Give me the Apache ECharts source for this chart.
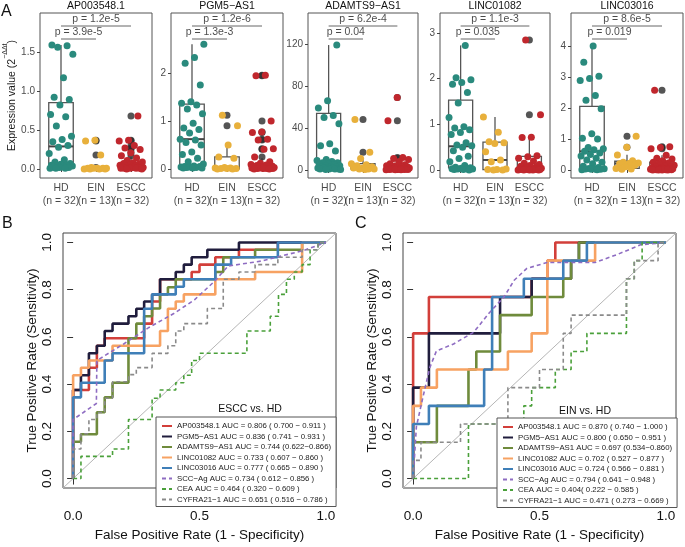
<!DOCTYPE html>
<html><head><meta charset="utf-8">
<script src="https://cdn.jsdelivr.net/npm/echarts@6/dist/echarts.min.js"></script>
<style>html,body{margin:0;padding:0;background:#fff}#c{width:685px;height:547px}</style>
</head><body><div id="c"></div>
<script>
// ---------- Panel A data ----------
const genes = ['AP003548.1','PGM5−AS1','ADAMTS9−AS1','LINC01082','LINC03016'];
const groups = ['HD','EIN','ESCC'];
const groupN = [32,13,32];
const yTicks = [[0,0.5,1,1.5],[0,1,2],[0,40,80,120],[0,1,2,3],[0,1,2,3,4]];
const pShort = ['p = 3.9e-5','p = 1.3e-3','p = 0.04','p = 0.035','p = 0.019'];
const pLong  = ['p = 1.2e-5','p = 1.2e-6','p = 6.2e-4','p = 1.1e-3','p = 8.6e-5'];

const ap_HD   = [1.59,1.58,1.56,1.47,1.17,0.92,0.89,0.82,0.70,0.67,0.55,0.42,0.38,0.35,0.30,0.28,0.20,0.12,0.09,0.07,0.06,0.05,0.05,0.04,0.04,0.03,0.03,0.02,0.02,0.01,0.01,0.01];
const ap_EIN  = [0.37,0.36,0.18,0.02,0.01,0.01,0.01,0.01,0.01,0.0,0.0,0.0,0.0];
const ap_ESCC = [0.68,0.37,0.36,0.30,0.27,0.25,0.21,0.17,0.14,0.11,0.09,0.08,0.07,0.06,0.05,0.05,0.04,0.04,0.03,0.03,0.03,0.02,0.02,0.02,0.02,0.01,0.01,0.01,0.01,0.01,0.0,0.0];
const ap_box  = [[0,0.05,0.29,0.85,1.59],[0,0.0,0.01,0.01,0.01],[0,0.01,0.03,0.07,0.15]];

const pgm_HD   = [2.60,2.32,2.20,1.75,1.40,1.37,1.33,1.25,1.15,0.95,0.85,0.82,0.75,0.62,0.60,0.55,0.50,0.35,0.30,0.22,0.15,0.10,0.06,0.05,0.05,0.04,0.04,0.03,0.03,0.02,0.02,0.02];
const pgm_EIN  = [1.12,0.90,0.50,0.25,0.22,0.03,0.02,0.02,0.01,0.01,0.01,0.0,0.0];
const pgm_ESCC = [1.95,1.94,1.00,0.77,0.76,0.62,0.60,0.42,0.41,0.25,0.15,0.12,0.09,0.08,0.07,0.06,0.05,0.05,0.04,0.04,0.03,0.03,0.03,0.02,0.02,0.02,0.01,0.01,0.01,0.01,0.0,0.0];
const pgm_box  = [[0.02,0.05,0.62,1.35,2.60],[0,0.0,0.01,0.25,0.50],[0,0.01,0.04,0.10,0.22]];

const adam_HD   = [119,66,59,52,50,44,25,23,18,10,9,8,7,7,6,5,5,4,4,3,3,3,2,2,2,2,1,1,1,1,0.5,0.5];
const adam_EIN  = [48,17,11,6,5,4,3,2,2,1,1,1,0.5];
const adam_ESCC = [69,47,12,11,10,8,6,5,4,4,3,3,3,2,2,2,2,2,1,1,1,1,1,1,1,0.5,0.5,0.5,0.5,0.3,0.3,0.2];
const adam_box  = [[0.5,2,7,54,119],[0.5,1,2,6,11],[0.2,1,2,4.5,10]];

const l82_HD   = [2.73,2.02,1.98,1.92,1.88,1.70,1.47,1.15,0.95,0.92,0.88,0.82,0.78,0.60,0.55,0.53,0.50,0.42,0.30,0.25,0.18,0.10,0.06,0.05,0.04,0.03,0.03,0.02,0.02,0.01,0.01,0.0];
const l82_EIN  = [1.16,0.83,0.62,0.60,0.58,0.40,0.22,0.18,0.02,0.01,0.01,0.0,0.0];
const l82_ESCC = [2.85,1.21,0.72,0.71,0.31,0.29,0.26,0.20,0.15,0.12,0.10,0.08,0.06,0.05,0.04,0.04,0.03,0.03,0.02,0.02,0.02,0.02,0.01,0.01,0.01,0.01,0.01,0.0,0.0,0.0,0.0,0.0];
const l82_box  = [[0,0.05,0.52,1.53,2.73],[0,0.01,0.22,0.61,1.16],[0,0.01,0.03,0.30,0.72]];

const l16_HD   = [4.0,3.47,3.02,2.95,2.88,2.40,2.25,1.97,1.17,1.02,1.00,0.72,0.68,0.65,0.60,0.55,0.50,0.45,0.38,0.32,0.25,0.20,0.12,0.08,0.05,0.04,0.03,0.03,0.02,0.02,0.01,0.01];
const l16_EIN  = [1.09,0.73,0.48,0.30,0.25,0.22,0.21,0.20,0.15,0.10,0.05,0.03,0.02];
const l16_ESCC = [2.57,0.75,0.72,0.68,0.47,0.38,0.35,0.30,0.25,0.22,0.20,0.15,0.12,0.10,0.10,0.08,0.06,0.05,0.05,0.04,0.03,0.03,0.02,0.02,0.02,0.01,0.01,0.01,0.0,0.0,0.0,0.0];
const l16_box  = [[0.01,0.05,0.60,2.05,4.0],[0.02,0.05,0.21,0.28,0.49],[0,0.02,0.08,0.25,0.47]];

// ---------- Panels B / C data (ROC vertices: [FPR, TPR]) ----------
const markerColors = ['#d23f3a','#201d3d','#6f8b3c','#f7a262','#3f7fb8','#8e6cc2','#4aa03a','#8a8a8a'];
const markerDashed = [false,false,false,false,false,true,true,true];
const legendB = ['AP003548.1 AUC = 0.806 ( 0.700 − 0.911 )','PGM5−AS1 AUC = 0.836 ( 0.741 − 0.931 )','ADAMTS9−AS1 AUC = 0.744 (0.622−0.866)','LINC01082 AUC = 0.733 ( 0.607 − 0.860 )','LINC03016 AUC = 0.777 ( 0.665 − 0.890 )','SCC−Ag AUC = 0.734 ( 0.612 − 0.856 )','CEA AUC = 0.464 ( 0.320 − 0.609 )','CYFRA21−1 AUC = 0.651 ( 0.516 − 0.786 )'];
const legendC = ['AP003548.1 AUC = 0.870 ( 0.740 − 1.000 )','PGM5−AS1 AUC = 0.800 ( 0.650 − 0.951 )','ADAMTS9−AS1 AUC = 0.697 (0.534−0.860)','LINC01082 AUC = 0.702 ( 0.527 − 0.877 )','LINC03016 AUC = 0.724 ( 0.566 − 0.881 )','SCC−Ag AUC = 0.794 ( 0.641 − 0.948 )','CEA AUC = 0.404( 0.222 − 0.585 )','CYFRA21−1 AUC = 0.471 ( 0.273 − 0.669 )'];

const rocB_AP = [[0,0],[0,0.375],[0.0625,0.375],[0.0625,0.469],[0.094,0.469],[0.094,0.5625],[0.125,0.5625],[0.125,0.594],[0.281,0.594],[0.281,0.656],[0.3125,0.656],[0.3125,0.75],[0.344,0.75],[0.344,0.844],[0.469,0.844],[0.469,0.875],[0.5,0.875],[0.5,0.906],[0.5625,0.906],[0.5625,0.9375],[0.656,0.9375],[0.656,0.969],[0.81,0.969],[0.81,1],[1,1]];
const rocB_PGM = [[0,0],[0,0.375],[0.031,0.375],[0.031,0.4375],[0.0625,0.4375],[0.0625,0.531],[0.094,0.531],[0.094,0.5625],[0.125,0.5625],[0.125,0.625],[0.156,0.625],[0.156,0.656],[0.219,0.656],[0.219,0.6875],[0.25,0.6875],[0.25,0.719],[0.281,0.719],[0.281,0.75],[0.3125,0.75],[0.3125,0.78],[0.344,0.78],[0.344,0.844],[0.406,0.844],[0.406,0.875],[0.438,0.875],[0.438,0.906],[0.469,0.906],[0.469,0.9375],[0.531,0.9375],[0.531,0.969],[0.656,0.969],[0.656,1],[1,1]];
const rocB_ADAM = [[0,0],[0,0.156],[0.031,0.156],[0.031,0.1875],[0.094,0.1875],[0.094,0.281],[0.125,0.281],[0.125,0.344],[0.156,0.344],[0.156,0.406],[0.219,0.406],[0.219,0.594],[0.25,0.594],[0.25,0.656],[0.281,0.656],[0.281,0.6875],[0.3125,0.6875],[0.3125,0.72],[0.344,0.72],[0.344,0.78],[0.375,0.78],[0.375,0.81],[0.406,0.81],[0.406,0.844],[0.5625,0.844],[0.5625,0.875],[0.594,0.875],[0.594,0.9375],[0.72,0.9375],[0.72,0.969],[0.906,0.969],[0.906,1],[1,1]];
const rocB_L82 = [[0,0],[0,0.4375],[0.031,0.4375],[0.031,0.469],[0.0625,0.469],[0.0625,0.5],[0.156,0.5],[0.156,0.5625],[0.344,0.5625],[0.344,0.625],[0.375,0.625],[0.375,0.719],[0.406,0.719],[0.406,0.75],[0.438,0.75],[0.438,0.78],[0.5625,0.78],[0.5625,0.844],[0.72,0.844],[0.72,0.875],[0.906,0.875],[0.906,1],[1,1]];
const rocB_L16 = [[0,0],[0,0.344],[0.031,0.344],[0.031,0.406],[0.125,0.406],[0.125,0.5],[0.156,0.5],[0.156,0.531],[0.281,0.531],[0.281,0.719],[0.3125,0.719],[0.3125,0.78],[0.406,0.78],[0.406,0.8125],[0.438,0.8125],[0.438,0.844],[0.5625,0.844],[0.5625,0.906],[0.625,0.906],[0.625,0.9375],[0.81,0.9375],[0.81,1],[1,1]];
const rocB_SCC = [[0,0],[0,0.25],[0.092,0.318],[0.094,0.50],[0.2,0.57],[0.3,0.64],[0.4,0.70],[0.48,0.757],[0.56,0.836],[0.613,0.90],[0.744,0.921],[0.915,0.967],[1,1]];
const rocB_CEA = [[0,0],[0.031,0],[0.031,0.094],[0.156,0.094],[0.156,0.125],[0.219,0.125],[0.219,0.25],[0.3125,0.25],[0.3125,0.34],[0.344,0.34],[0.344,0.375],[0.406,0.375],[0.406,0.406],[0.438,0.406],[0.438,0.4375],[0.469,0.4375],[0.469,0.5],[0.5,0.5],[0.5,0.531],[0.6875,0.531],[0.6875,0.625],[0.78,0.625],[0.78,0.6875],[0.8125,0.6875],[0.8125,0.78],[0.844,0.78],[0.844,0.844],[0.875,0.844],[0.875,0.875],[0.906,0.875],[0.906,0.906],[0.9375,0.906],[0.9375,0.969],[0.969,0.969],[0.969,1],[1,1]];
const rocB_CYF = [[0,0],[0,0.125],[0.031,0.125],[0.031,0.19],[0.0625,0.19],[0.0625,0.25],[0.094,0.25],[0.094,0.28],[0.125,0.28],[0.125,0.34],[0.156,0.34],[0.156,0.41],[0.22,0.41],[0.22,0.44],[0.25,0.44],[0.25,0.47],[0.3125,0.47],[0.3125,0.53],[0.375,0.53],[0.375,0.5625],[0.406,0.5625],[0.406,0.625],[0.438,0.625],[0.438,0.656],[0.531,0.656],[0.531,0.72],[0.594,0.72],[0.594,0.844],[0.656,0.844],[0.656,0.875],[0.72,0.875],[0.72,0.906],[0.81,0.906],[0.81,0.9375],[0.906,0.9375],[0.906,0.969],[0.969,0.969],[0.969,1],[1,1]];

const rocC_AP = [[0,0],[0,0.615],[0.0625,0.615],[0.0625,0.769],[0.469,0.769],[0.469,0.846],[0.531,0.846],[0.531,0.923],[0.5625,0.923],[0.5625,1],[1,1]];
const rocC_PGM = [[0,0],[0,0.385],[0.0625,0.385],[0.0625,0.615],[0.344,0.615],[0.344,0.769],[0.469,0.769],[0.469,0.846],[0.625,0.846],[0.625,0.923],[0.656,0.923],[0.656,1],[1,1]];
const rocC_ADAM = [[0,0],[0,0.154],[0.094,0.154],[0.094,0.308],[0.219,0.308],[0.219,0.462],[0.25,0.462],[0.25,0.538],[0.344,0.538],[0.344,0.692],[0.469,0.692],[0.469,0.769],[0.594,0.769],[0.594,0.846],[0.625,0.846],[0.625,0.923],[0.656,0.923],[0.656,1],[1,1]];
const rocC_L82 = [[0,0],[0,0.308],[0.031,0.308],[0.031,0.385],[0.094,0.385],[0.094,0.462],[0.375,0.462],[0.375,0.538],[0.469,0.538],[0.469,0.615],[0.531,0.615],[0.531,0.923],[0.72,0.923],[0.72,1],[1,1]];
const rocC_L16 = [[0,0],[0,0.231],[0.0625,0.231],[0.0625,0.308],[0.281,0.308],[0.281,0.462],[0.3125,0.462],[0.3125,0.769],[0.438,0.769],[0.438,0.846],[0.594,0.846],[0.594,0.923],[0.6875,0.923],[0.6875,1],[1,1]];
const rocC_SCC = [[0,0],[0.013,0.22],[0.04,0.35],[0.066,0.47],[0.092,0.54],[0.16,0.57],[0.24,0.62],[0.30,0.70],[0.36,0.77],[0.40,0.84],[0.45,0.89],[0.53,0.915],[0.72,0.915],[0.81,0.95],[0.9,0.99],[1,1]];
const rocC_CEA = [[0,0],[0.219,0],[0.219,0.231],[0.438,0.231],[0.438,0.308],[0.469,0.308],[0.469,0.385],[0.5625,0.385],[0.5625,0.462],[0.625,0.462],[0.625,0.538],[0.6875,0.538],[0.6875,0.615],[0.844,0.615],[0.844,0.846],[0.875,0.846],[0.875,0.923],[0.906,0.923],[0.906,1],[1,1]];
const rocC_CYF = [[0,0],[0,0.077],[0.031,0.077],[0.031,0.154],[0.1875,0.154],[0.1875,0.231],[0.375,0.231],[0.375,0.385],[0.5,0.385],[0.5,0.462],[0.594,0.462],[0.594,0.615],[0.625,0.615],[0.625,0.692],[0.844,0.692],[0.844,0.846],[0.875,0.846],[0.875,0.923],[0.969,0.923],[0.969,1],[1,1]];

// ---------- Build chart ----------
const FONT = '"Liberation Sans", Arial, Helvetica, sans-serif';
const groupColors = ['#2a8a7d','#e8b03b','#c0272d'];
const panelValues = [[ap_HD,ap_EIN,ap_ESCC],[pgm_HD,pgm_EIN,pgm_ESCC],[adam_HD,adam_EIN,adam_ESCC],[l82_HD,l82_EIN,l82_ESCC],[l16_HD,l16_EIN,l16_ESCC]];
const panelBoxes = [ap_box,pgm_box,adam_box,l82_box,l16_box];
const yRange = [[-0.115,2.0],[-0.19,3.25],[-7.6,149.5],[-0.175,3.44],[-0.26,5.06]];
const topLeft = [40,171,308,440,571];
const topWidth = [112,112,110,110,112];
const TOP = 13, TOPH = 165;

const grids = [], xAxes = [], yAxes = [], series = [], graphics = [];
const jit = k => (((k * 0.6180339887 + 0.13) % 1) - 0.5) * 0.7;

for (let i = 0; i < 5; i++) {
  grids.push({left: topLeft[i], top: TOP, width: topWidth[i], height: TOPH, show: true, borderColor: '#555', borderWidth: 1});
  xAxes.push({gridIndex: i, type: 'value', min: 0.4, max: 3.6,
    axisLine: {show: false}, splitLine: {show: false},
    axisTick: {show: true, customValues: [1,2,3], length: 3, lineStyle: {color: '#444'}},
    axisLabel: {show: false}});
  const yA = {gridIndex: i, type: 'value', min: yRange[i][0], max: yRange[i][1],
    axisLine: {show: false}, splitLine: {show: false},
    axisTick: {show: true, customValues: yTicks[i], length: 3, lineStyle: {color: '#444'}},
    axisLabel: {customValues: yTicks[i], hideOverlap: false, formatter: v => i === 0 ? v.toFixed(1) : String(v),
      fontSize: 10, color: '#4d4d4d', margin: 5, fontFamily: FONT}};
  if (i === 0) {
    yA.name = '{n|Expression value (2}{s|−ΔΔt}{n|)}';
    yA.nameLocation = 'middle'; yA.nameRotate = 90; yA.nameGap = 22;
    yA.nameTextStyle = {fontFamily: FONT, color: '#1a1a1a', rich: {
      n: {fontSize: 10.5, fontFamily: FONT, color: '#1a1a1a', lineHeight: 16, verticalAlign: 'bottom'},
      s: {fontSize: 7, fontFamily: FONT, color: '#1a1a1a', lineHeight: 16, verticalAlign: 'top'}}};
  }
  yAxes.push(yA);

  const box = panelBoxes[i];
  series.push({type: 'custom', xAxisIndex: i, yAxisIndex: i, silent: true, z: 1,
    data: box.map((b, g) => [g + 1, b[0], b[1], b[2], b[3], b[4]]),
    renderItem: (params, api) => {
      const x = api.value(0);
      const mn = api.coord([x, api.value(1)]), q1 = api.coord([x, api.value(2)]);
      const md = api.coord([x, api.value(3)]), q3 = api.coord([x, api.value(4)]);
      const mx = api.coord([x, api.value(5)]);
      const l = api.coord([x - 0.35, 0])[0], r = api.coord([x + 0.35, 0])[0];
      const st = {stroke: '#555', lineWidth: 1.3, fill: null};
      return {type: 'group', children: [
        {type: 'line', shape: {x1: q3[0], y1: q3[1], x2: mx[0], y2: mx[1]}, style: st},
        {type: 'line', shape: {x1: q1[0], y1: q1[1], x2: mn[0], y2: mn[1]}, style: st},
        {type: 'rect', shape: {x: l, y: q3[1], width: r - l, height: q1[1] - q3[1]}, style: {stroke: '#555', lineWidth: 1.3, fill: '#fff'}},
        {type: 'line', shape: {x1: l, y1: md[1], x2: r, y2: md[1]}, style: {stroke: '#444', lineWidth: 2}}
      ]};
    }});
  const outl = [];
  panelValues[i].forEach((vals, g) => vals.forEach(v => { if (v > box[g][4] || v < box[g][0]) outl.push([g + 1, v]); }));
  series.push({type: 'scatter', xAxisIndex: i, yAxisIndex: i, silent: true, z: 2, symbolSize: 7,
    itemStyle: {color: '#2b2b2b'}, data: outl});
  panelValues[i].forEach((vals, g) => {
    series.push({type: 'scatter', xAxisIndex: i, yAxisIndex: i, silent: true, z: 3, symbolSize: 7,
      itemStyle: {color: groupColors[g], opacity: 1},
      data: vals.map((v, k) => [g + 1 + jit(k + 7 * g + 3 * i), v])});
  });
  // category labels under each panel (HD / EIN / ESCC with group sizes)
  series.push({type: 'scatter', xAxisIndex: i, yAxisIndex: i, silent: true, symbolSize: 0, z: 4, clip: false,
    data: groups.map((g, k) => ({value: [k + 1, yRange[i][0]], label: {formatter: g + '\n(n = ' + groupN[k] + ')'}})),
    label: {show: true, position: 'bottom', distance: 4, fontSize: 10.5, lineHeight: 12.5, color: '#1a1a1a', fontFamily: FONT, align: 'center'},
    labelLayout: {hideOverlap: false}});
  const span = yRange[i][1] - yRange[i][0];
  const yLong = yRange[i][1] - 13 / TOPH * span, yShort = yRange[i][1] - 26 / TOPH * span;
  series.push({type: 'line', xAxisIndex: i, yAxisIndex: i, silent: true, symbol: 'none', z: 4,
    lineStyle: {color: '#555', width: 0.9}, data: [[1, yLong], [3, yLong]]});
  series.push({type: 'line', xAxisIndex: i, yAxisIndex: i, silent: true, symbol: 'none', z: 4,
    lineStyle: {color: '#555', width: 0.9}, data: [[1, yShort], [2, yShort]]});
  series.push({type: 'scatter', xAxisIndex: i, yAxisIndex: i, silent: true, symbolSize: 0, z: 4,
    data: [{value: [2, yLong], label: {formatter: pLong[i]}}, {value: [1.5, yShort], label: {formatter: pShort[i]}}],
    label: {show: true, position: 'top', distance: 1, fontSize: 10.5, color: '#1a1a1a', fontFamily: FONT}});
  graphics.push({type: 'text', x: topLeft[i] + topWidth[i] / 2, y: 6, style: {text: genes[i], fontSize: 10.5, fontFamily: FONT, fill: '#111', align: 'center', verticalAlign: 'middle'}});
}

const rocB = [rocB_AP, rocB_PGM, rocB_ADAM, rocB_L82, rocB_L16, rocB_SCC, rocB_CEA, rocB_CYF];
const rocC = [rocC_AP, rocC_PGM, rocC_ADAM, rocC_L82, rocC_L16, rocC_SCC, rocC_CEA, rocC_CYF];
const rocLeft = [63, 403];
[[rocB, legendB], [rocC, legendC]].forEach(([curves, names], j) => {
  const gi = 5 + j;
  grids.push({left: rocLeft[j], top: 233, width: 273, height: 274, show: true, borderColor: '#444', borderWidth: 1});
  xAxes.push({gridIndex: gi, type: 'value', min: -0.04, max: 1.04,
    axisLine: {show: false}, splitLine: {show: false},
    axisTick: {show: true, customValues: [0, 0.5, 1], length: 6, lineStyle: {color: '#333'}},
    axisLabel: {customValues: [0, 0.5, 1], hideOverlap: false, formatter: v => v.toFixed(1), fontSize: 13.5, color: '#111', margin: 21, fontFamily: FONT},
    name: 'False Positive Rate (1 - Specificity)', nameLocation: 'middle', nameGap: 40,
    nameTextStyle: {fontSize: 13.5, color: '#111', fontFamily: FONT}});
  yAxes.push({gridIndex: gi, type: 'value', min: -0.04, max: 1.04,
    axisLine: {show: false}, splitLine: {show: false},
    axisTick: {show: true, customValues: [0, 0.2, 0.4, 0.6, 0.8, 1], length: 6, lineStyle: {color: '#333'}},
    axisLabel: {customValues: [0, 0.2, 0.4, 0.6, 0.8, 1], hideOverlap: false, formatter: v => v.toFixed(1), rotate: 90, fontSize: 13.5, color: '#111', margin: 9, fontFamily: FONT},
    name: 'True Positive Rate (Sensitivity)', nameLocation: 'middle', nameGap: 24, nameRotate: 90,
    nameTextStyle: {fontSize: 13.5, color: '#111', fontFamily: FONT}});
  series.push({type: 'line', xAxisIndex: gi, yAxisIndex: gi, silent: true, symbol: 'none', z: 1,
    lineStyle: {color: '#b5b5b5', width: 1}, data: [[-0.04, -0.04], [1.04, 1.04]]});
  curves.forEach((c, k) => {
    series.push({type: 'line', name: names[k], xAxisIndex: gi, yAxisIndex: gi, silent: true, symbol: 'none', z: 2,
      lineStyle: markerDashed[k] ? {color: markerColors[k], width: 1.6, type: [4, 3]} : {color: markerColors[k], width: 2.6},
      itemStyle: {color: markerColors[k]}, data: c});
  });
});

const legendCommon = {orient: 'vertical', selectedMode: false, itemWidth: 10, itemHeight: 2, itemGap: 0.5,
  padding: [4, 5, 2, 5], borderColor: '#555', borderWidth: 1, backgroundColor: '#fff',
  itemStyle: {opacity: 0},
  textStyle: {fontSize: 7.8, lineHeight: 10, height: 10, color: '#222', fontFamily: FONT}};

graphics.push({type: 'text', x: 1, y: 12, style: {text: 'A', fontSize: 16, fontFamily: FONT, fill: '#111', verticalAlign: 'middle'}});
graphics.push({type: 'text', x: 2, y: 224, style: {text: 'B', fontSize: 16, fontFamily: FONT, fill: '#111', verticalAlign: 'middle'}});
graphics.push({type: 'text', x: 355, y: 224, style: {text: 'C', fontSize: 16, fontFamily: FONT, fill: '#111', verticalAlign: 'middle'}});
graphics.push({type: 'text', x: 250, y: 409, style: {text: 'ESCC vs. HD', fontSize: 10.5, fontFamily: FONT, fill: '#111', align: 'center', verticalAlign: 'middle'}});
graphics.push({type: 'text', x: 585, y: 411, style: {text: 'EIN vs. HD', fontSize: 10.5, fontFamily: FONT, fill: '#111', align: 'center', verticalAlign: 'middle'}});

const chart = echarts.init(document.getElementById('c'));
chart.setOption({
  animation: false,
  backgroundColor: '#fff',
  grid: grids, xAxis: xAxes, yAxis: yAxes, series: series,
  legend: [
    Object.assign({}, legendCommon, {left: 156, top: 417, data: legendB}),
    Object.assign({}, legendCommon, {left: 497, top: 418, data: legendC})
  ],
  graphic: graphics
});
</script></body></html>
